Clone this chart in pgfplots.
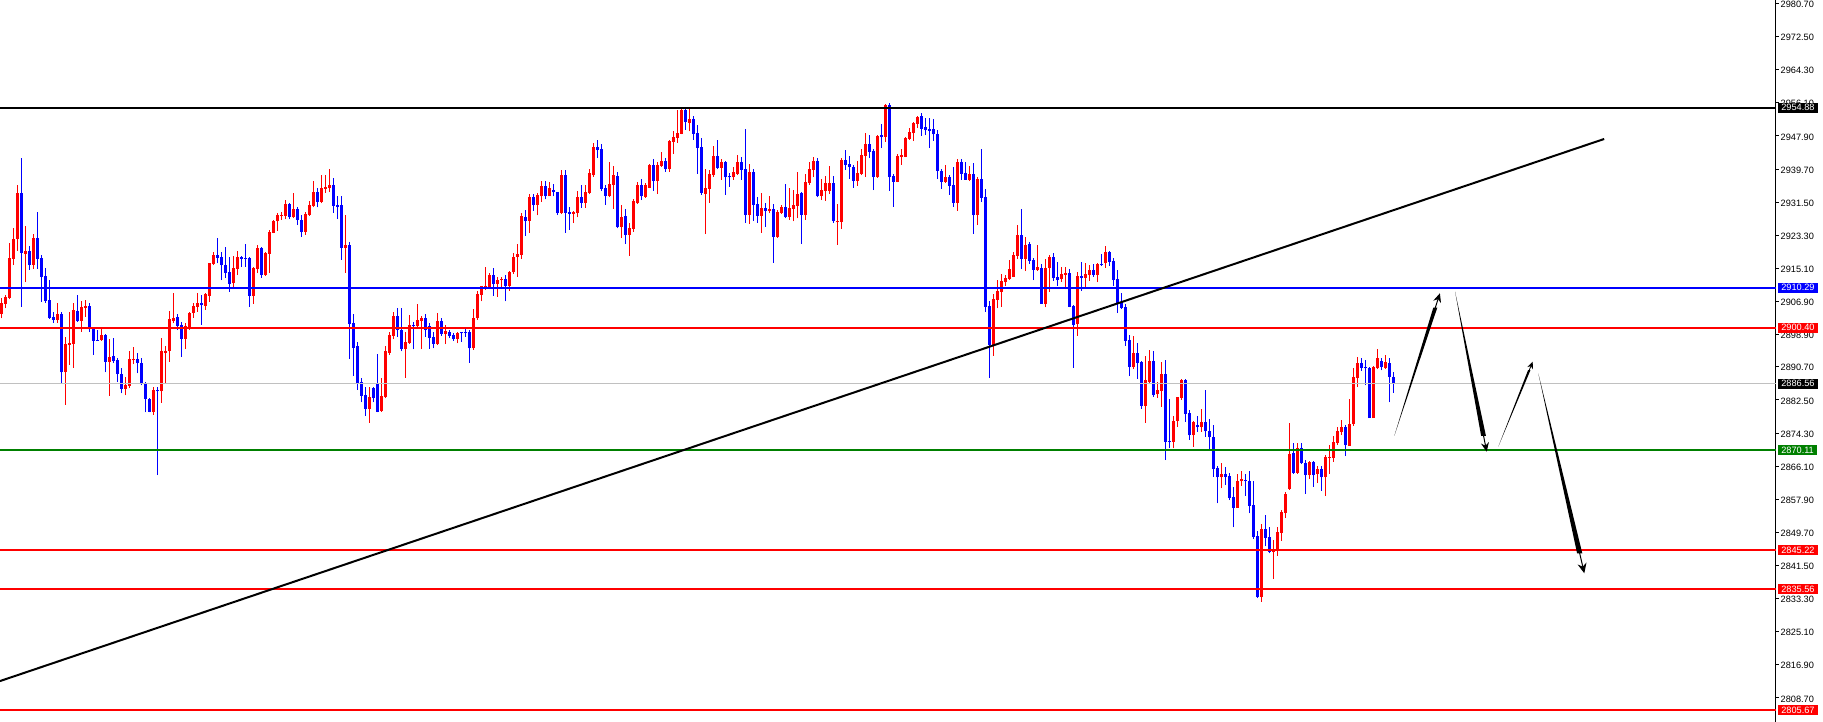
\documentclass[border=0pt]{standalone}
\usepackage{pgfplots}
\usepackage{pgfplotstable}
\pgfplotsset{compat=1.18}
\usetikzlibrary{arrows.meta}
\usepackage{fontspec}
\setmainfont{Liberation Sans}
\newcommand\tf{\fontsize{9.2}{10}\selectfont}
\definecolor{mtgreen}{RGB}{0,128,0}
\definecolor{mtsilver}{RGB}{192,192,192}

% bullish (red) candles: x = bar index, L = low, H = high, B = body bottom, T = body top
\pgfplotstableread{
x L H B T
0 2902.7 2907.7 2903.9 2906.4
1 2905.2 2908.5 2906.3 2908.1
2 2907.4 2921.3 2907.8 2917.7
3 2915.9 2925.0 2917.5 2922.4
4 2919.5 2935.7 2922.4 2933.8
6 2911.6 2925.6 2918.7 2919.3
8 2915.0 2923.6 2916.0 2922.6
14 2901.6 2906.5 2902.3 2903.8
16 2881.3 2898.0 2889.3 2896.4
17 2891.2 2904.4 2896.1 2896.5
18 2890.5 2906.5 2896.4 2904.8
20 2899.4 2907.1 2902.1 2905.6
21 2903.1 2907.3 2905.3 2905.8
25 2897.1 2900.2 2897.4 2898.6
27 2883.5 2897.7 2892.0 2893.1
31 2883.6 2888.1 2885.3 2886.1
32 2885.4 2894.7 2886.0 2892.6
33 2891.3 2895.6 2892.3 2892.6
38 2878.8 2885.8 2879.6 2885.0
40 2881.8 2897.8 2884.6 2894.5
41 2886.6 2895.9 2894.2 2894.7
42 2892.0 2904.5 2894.5 2902.6
43 2901.5 2909.1 2902.1 2902.9
46 2895.2 2901.5 2897.6 2900.9
47 2899.8 2904.4 2900.1 2904.1
48 2902.9 2906.4 2904.0 2905.8
49 2904.4 2908.9 2905.6 2906.4
51 2904.8 2909.1 2905.8 2908.7
52 2906.8 2916.5 2908.3 2916.3
53 2915.9 2919.2 2916.2 2918.4
58 2910.1 2918.2 2911.4 2915.1
59 2913.5 2919.4 2915.0 2917.8
63 2906.3 2915.4 2908.3 2915.2
64 2913.9 2920.9 2914.9 2920.2
66 2913.2 2919.1 2913.5 2918.9
67 2914.0 2924.6 2918.7 2924.2
68 2923.8 2927.1 2923.9 2926.9
69 2924.4 2928.9 2926.7 2928.3
70 2927.1 2929.1 2928.0 2928.3
71 2927.3 2932.0 2928.1 2931.0
73 2927.5 2933.8 2927.7 2929.8
76 2923.4 2929.1 2924.2 2928.6
77 2928.1 2931.9 2928.4 2930.8
78 2930.2 2936.7 2930.6 2933.9
80 2931.2 2938.2 2931.6 2934.9
81 2933.8 2938.2 2934.8 2935.2
82 2934.0 2939.6 2935.1 2935.7
86 2914.0 2928.3 2920.2 2920.9
92 2876.9 2885.6 2880.3 2883.3
95 2879.6 2887.9 2879.8 2883.5
96 2882.9 2895.9 2883.3 2894.6
97 2893.6 2899.4 2894.2 2898.6
98 2897.5 2904.4 2898.4 2903.3
101 2888.0 2899.4 2895.1 2896.8
102 2896.4 2903.5 2896.7 2901.1
104 2900.2 2906.3 2900.7 2902.3
105 2895.1 2903.4 2902.1 2902.8
109 2896.1 2904.0 2896.4 2902.0
111 2896.3 2901.1 2898.9 2899.6
114 2896.5 2899.4 2897.7 2899.0
118 2894.9 2905.0 2895.3 2902.7
119 2902.3 2909.5 2902.7 2908.8
120 2906.9 2910.8 2908.5 2910.6
121 2909.7 2915.4 2910.3 2910.6
122 2909.9 2913.9 2910.3 2913.5
124 2908.1 2913.0 2911.2 2912.1
125 2909.9 2913.0 2912.1 2912.5
127 2909.6 2914.4 2910.7 2914.2
128 2913.7 2918.8 2914.1 2917.9
129 2913.0 2921.1 2917.9 2918.7
130 2917.4 2928.7 2918.4 2928.1
132 2923.9 2933.5 2926.8 2932.8
134 2928.2 2933.7 2930.8 2933.3
135 2931.6 2936.7 2932.9 2935.5
137 2932.9 2936.4 2932.9 2934.9
140 2928.5 2939.4 2928.8 2938.2
143 2926.3 2929.3 2928.6 2929.1
144 2927.7 2934.2 2928.8 2932.8
146 2930.1 2935.8 2931.3 2934.0
147 2933.4 2939.7 2933.8 2938.6
148 2937.8 2946.2 2938.1 2945.2
152 2932.7 2941.5 2933.1 2936.0
153 2929.8 2940.5 2935.8 2938.1
155 2922.7 2930.8 2925.3 2927.8
157 2918.2 2926.3 2923.4 2925.0
158 2924.2 2932.2 2924.9 2931.8
159 2931.0 2936.4 2931.2 2935.8
161 2932.6 2936.2 2932.8 2935.8
162 2934.9 2941.0 2935.1 2940.7
164 2933.5 2941.5 2936.7 2940.7
165 2940.3 2944.0 2940.5 2941.7
167 2939.0 2946.8 2939.7 2946.6
168 2943.4 2949.0 2946.5 2947.6
169 2946.2 2954.3 2947.5 2948.6
170 2948.3 2954.7 2948.4 2954.3
172 2949.0 2954.7 2951.2 2952.1
176 2923.6 2939.7 2933.6 2934.9
177 2931.4 2939.5 2934.8 2938.5
178 2937.8 2945.4 2938.2 2942.9
180 2937.0 2942.1 2940.0 2941.4
183 2937.0 2940.2 2937.6 2939.0
184 2938.2 2943.2 2938.5 2941.4
187 2926.1 2941.0 2928.3 2939.0
190 2923.9 2933.7 2928.1 2930.1
192 2928.7 2933.0 2929.3 2929.8
194 2922.7 2929.6 2922.9 2929.1
195 2928.6 2930.8 2928.8 2930.3
197 2927.1 2934.9 2927.8 2930.1
198 2926.7 2934.5 2929.8 2930.8
199 2927.5 2938.9 2930.5 2933.5
201 2927.1 2938.5 2928.3 2936.5
202 2935.8 2941.5 2936.2 2939.7
203 2937.6 2942.7 2939.5 2941.7
205 2932.0 2937.2 2933.0 2934.4
206 2931.8 2938.0 2934.2 2936.2
207 2933.5 2940.5 2934.3 2936.2
209 2920.9 2931.0 2926.5 2926.8
210 2924.9 2942.4 2926.6 2941.9
214 2935.6 2941.7 2936.7 2938.7
215 2938.2 2944.7 2938.5 2943.2
216 2937.7 2948.6 2942.9 2945.9
219 2937.5 2948.1 2937.7 2947.9
221 2946.4 2955.8 2947.6 2955.5
224 2936.4 2943.4 2936.5 2942.9
225 2940.7 2944.7 2942.7 2943.2
226 2942.6 2947.6 2942.7 2947.4
227 2946.9 2949.9 2947.1 2948.9
228 2946.6 2951.4 2948.5 2951.1
229 2949.8 2952.9 2950.9 2952.6
236 2936.3 2940.7 2936.6 2937.7
239 2929.4 2942.2 2931.4 2941.4
242 2936.7 2940.5 2937.1 2938.5
244 2925.8 2937.8 2928.3 2937.2
248 2893.4 2908.8 2896.1 2907.5
249 2905.2 2912.2 2907.3 2909.5
250 2905.6 2913.7 2909.3 2912.0
251 2910.6 2913.5 2911.7 2912.7
252 2912.2 2917.2 2912.5 2914.9
253 2912.9 2919.1 2913.0 2918.4
254 2917.4 2925.8 2918.2 2923.4
256 2914.4 2922.9 2917.4 2920.9
259 2914.4 2920.9 2914.7 2915.4
261 2905.4 2917.4 2906.3 2915.2
262 2909.3 2918.3 2915.2 2917.9
265 2911.8 2915.4 2912.5 2913.7
266 2909.9 2915.4 2913.5 2914.0
269 2898.4 2914.2 2901.3 2913.2
271 2910.3 2916.3 2912.8 2913.7
272 2912.0 2915.9 2913.5 2914.7
274 2911.7 2916.4 2913.5 2916.2
276 2915.3 2920.6 2916.4 2919.2
283 2890.2 2898.3 2890.7 2894.1
286 2876.8 2893.4 2881.0 2887.4
287 2886.4 2894.9 2887.0 2892.2
289 2883.1 2887.0 2883.9 2885.0
290 2880.8 2892.0 2884.8 2888.9
293 2870.5 2878.4 2872.1 2877.3
294 2875.9 2883.3 2877.3 2883.2
295 2882.5 2887.6 2883.1 2887.4
298 2870.9 2877.3 2873.7 2877.0
300 2874.6 2880.2 2875.7 2877.0
305 2860.6 2867.0 2863.3 2864.2
309 2855.8 2864.1 2855.8 2862.4
310 2861.2 2864.8 2862.3 2862.9
315 2832.5 2851.8 2833.8 2850.5
318 2838.1 2847.8 2844.9 2845.5
319 2843.9 2851.1 2845.1 2849.9
320 2847.6 2855.2 2849.6 2854.8
321 2853.2 2859.8 2854.6 2859.3
322 2860.2 2876.9 2860.4 2869.1
324 2864.2 2871.8 2864.5 2870.5
327 2863.0 2867.4 2863.9 2867.1
329 2861.9 2866.1 2864.1 2865.4
331 2858.7 2868.9 2863.3 2868.4
332 2864.2 2871.3 2868.1 2868.4
333 2867.2 2873.6 2868.2 2872.1
334 2871.3 2875.7 2871.8 2874.8
335 2873.8 2877.5 2874.6 2875.8
337 2871.2 2882.7 2871.2 2876.5
338 2876.1 2890.3 2876.5 2888.2
339 2885.8 2893.1 2887.9 2891.7
343 2878.0 2890.9 2878.0 2890.6
344 2890.1 2895.1 2890.3 2892.8
346 2890.1 2893.6 2890.4 2891.9
}\up

% bearish (blue) candles
\pgfplotstableread{
x L H B T
5 2905.6 2942.4 2919.0 2933.8
7 2914.7 2920.6 2916.0 2919.4
9 2915.0 2929.1 2917.5 2922.6
10 2906.8 2918.4 2913.0 2917.7
11 2906.6 2915.2 2907.1 2913.2
12 2902.6 2912.2 2902.8 2907.3
13 2901.6 2904.4 2902.3 2903.0
15 2886.8 2904.4 2889.3 2903.9
19 2901.9 2908.6 2902.1 2904.5
22 2899.3 2906.4 2900.0 2905.8
23 2893.7 2900.5 2897.2 2900.0
24 2897.1 2899.8 2897.1 2897.4
26 2889.3 2898.8 2892.0 2898.6
28 2891.6 2897.8 2892.2 2893.3
29 2886.9 2892.8 2888.9 2892.4
30 2884.1 2890.4 2885.3 2888.9
34 2889.1 2894.2 2891.6 2892.6
35 2886.1 2893.0 2886.4 2891.6
36 2879.4 2887.0 2882.7 2886.6
37 2879.4 2882.9 2879.6 2882.7
39 2863.9 2885.8 2884.6 2885.0
44 2899.8 2903.8 2900.8 2903.0
45 2893.2 2901.9 2897.6 2901.1
50 2901.1 2908.5 2905.9 2906.4
54 2916.3 2922.7 2917.7 2918.4
55 2912.2 2919.2 2915.8 2918.0
56 2912.8 2920.5 2914.0 2915.9
57 2909.3 2918.0 2911.2 2914.3
60 2915.4 2918.2 2917.5 2917.8
61 2915.5 2921.1 2917.4 2917.7
62 2905.6 2918.0 2908.3 2917.7
65 2912.8 2920.5 2913.5 2920.2
72 2927.3 2931.4 2927.7 2931.0
74 2925.8 2930.4 2927.1 2929.7
75 2922.9 2928.3 2924.2 2927.1
79 2930.2 2934.9 2931.6 2934.1
83 2928.9 2937.4 2930.6 2935.8
84 2927.3 2932.9 2930.4 2930.8
85 2917.2 2933.0 2920.2 2930.8
87 2892.6 2921.5 2901.4 2920.9
88 2888.4 2903.8 2895.4 2901.5
89 2885.0 2896.9 2886.8 2895.9
90 2881.9 2887.9 2883.5 2886.9
91 2878.6 2885.8 2880.3 2883.7
93 2881.9 2885.8 2883.1 2885.5
94 2879.4 2893.9 2879.6 2886.6
99 2898.2 2905.2 2899.8 2903.3
100 2894.5 2905.2 2895.1 2899.8
103 2895.0 2901.9 2900.7 2901.1
106 2898.2 2903.8 2899.8 2902.8
107 2895.2 2901.5 2897.8 2900.8
108 2895.3 2899.4 2896.4 2898.1
110 2898.3 2902.7 2898.9 2902.0
112 2897.8 2899.8 2898.4 2899.4
113 2897.1 2899.2 2897.7 2898.6
115 2896.9 2899.4 2899.0 2899.3
116 2898.2 2900.2 2899.1 2899.4
117 2891.7 2899.8 2895.3 2899.3
123 2908.3 2915.2 2911.2 2913.5
126 2906.9 2913.5 2910.7 2912.5
131 2923.2 2929.6 2926.8 2927.8
133 2929.4 2933.5 2930.8 2932.8
136 2932.2 2936.7 2933.0 2935.5
138 2932.9 2936.0 2933.9 2934.5
139 2928.3 2934.1 2928.8 2933.9
141 2923.9 2939.5 2928.9 2938.2
142 2924.6 2930.2 2928.6 2929.1
145 2930.1 2935.8 2931.3 2932.8
149 2942.4 2946.9 2944.4 2945.2
150 2934.2 2945.8 2934.8 2944.7
151 2930.8 2935.8 2933.1 2935.0
154 2925.0 2938.9 2925.3 2938.0
156 2921.1 2929.7 2923.4 2928.1
160 2932.0 2937.2 2932.9 2935.8
163 2934.3 2942.2 2936.7 2940.7
166 2939.0 2942.4 2939.7 2941.8
171 2949.4 2954.7 2951.3 2954.3
173 2946.9 2952.9 2948.4 2952.1
174 2938.5 2950.6 2945.0 2948.6
175 2933.3 2947.5 2933.7 2945.2
179 2939.7 2946.9 2940.0 2942.9
181 2933.3 2941.8 2937.6 2941.4
182 2935.3 2938.6 2937.6 2937.9
185 2937.0 2942.7 2939.5 2941.4
186 2926.4 2949.7 2928.3 2939.7
188 2926.8 2939.7 2930.8 2939.0
189 2926.4 2932.8 2928.1 2931.0
191 2925.4 2931.3 2929.3 2930.1
193 2916.5 2931.0 2922.9 2929.8
196 2927.5 2936.0 2927.8 2930.3
200 2921.1 2934.1 2928.3 2933.8
204 2932.7 2942.4 2933.0 2941.7
208 2926.4 2938.0 2926.8 2936.2
211 2939.5 2944.4 2940.7 2941.9
212 2937.2 2942.9 2940.2 2941.0
213 2935.0 2940.7 2936.7 2940.2
217 2942.4 2948.1 2944.0 2945.9
218 2934.5 2944.7 2937.7 2944.2
220 2944.9 2950.9 2947.6 2948.1
222 2934.3 2956.1 2937.7 2955.5
223 2930.3 2938.5 2936.5 2938.0
230 2947.9 2953.6 2949.7 2952.8
231 2948.1 2952.3 2949.3 2950.0
232 2945.0 2952.3 2949.2 2949.5
233 2946.7 2952.1 2948.3 2949.5
234 2937.2 2949.4 2939.3 2948.4
235 2934.8 2939.7 2936.6 2939.2
237 2933.3 2938.2 2935.6 2937.7
238 2930.4 2940.2 2931.4 2935.7
240 2937.1 2942.2 2938.5 2941.4
241 2937.1 2941.4 2937.1 2938.6
243 2923.7 2941.2 2928.3 2938.5
245 2931.5 2944.7 2932.6 2937.2
246 2904.4 2934.8 2905.6 2932.8
247 2888.0 2906.9 2896.1 2905.8
255 2914.9 2929.8 2917.4 2923.4
257 2916.2 2921.6 2917.0 2921.1
258 2912.2 2917.6 2914.7 2917.2
260 2906.3 2916.2 2906.3 2915.2
263 2912.0 2918.9 2912.7 2917.9
264 2910.7 2916.6 2912.2 2913.0
267 2905.4 2914.9 2905.6 2914.0
268 2890.5 2906.0 2901.1 2905.8
270 2909.5 2916.7 2912.8 2913.2
273 2913.0 2916.2 2913.5 2914.7
275 2915.7 2918.7 2915.9 2916.2
277 2915.7 2919.3 2916.7 2919.2
278 2910.7 2917.7 2912.2 2916.9
279 2904.0 2914.7 2906.5 2912.5
280 2905.0 2909.0 2905.3 2906.7
281 2895.9 2906.3 2897.1 2905.5
282 2888.4 2898.6 2890.7 2897.3
284 2887.7 2896.6 2891.7 2894.1
285 2880.3 2892.2 2881.0 2892.0
288 2883.3 2894.6 2883.7 2892.2
291 2867.6 2892.4 2872.2 2888.9
292 2870.5 2882.7 2872.1 2872.4
296 2877.1 2887.6 2879.0 2887.4
297 2872.6 2880.0 2873.7 2879.2
299 2874.6 2878.4 2875.7 2876.2
301 2873.4 2885.0 2874.7 2877.0
302 2870.4 2877.7 2873.2 2874.9
303 2863.5 2876.3 2865.5 2873.3
304 2856.9 2866.2 2863.3 2865.6
306 2861.4 2866.0 2863.5 2864.2
307 2857.7 2864.3 2858.3 2863.7
308 2850.9 2861.0 2855.8 2858.5
311 2858.8 2864.1 2862.3 2862.7
312 2854.4 2864.9 2856.3 2862.4
313 2848.1 2862.3 2848.5 2856.5
314 2833.4 2850.1 2833.8 2848.8
316 2846.2 2854.0 2848.4 2850.5
317 2844.5 2850.9 2844.9 2848.6
323 2864.2 2871.8 2864.5 2869.3
325 2866.6 2871.9 2866.8 2870.5
326 2859.2 2867.6 2863.9 2867.0
328 2861.0 2867.4 2863.9 2867.1
330 2860.0 2866.1 2863.3 2865.4
336 2868.6 2876.3 2871.3 2875.8
340 2889.7 2892.8 2890.4 2891.7
341 2886.1 2892.4 2890.3 2890.7
342 2878.0 2890.7 2878.0 2890.4
345 2889.8 2892.8 2890.6 2892.2
347 2881.9 2893.0 2888.2 2891.6
348 2884.3 2889.3 2886.6 2888.2
}\down

\pgfplotsset{
  wick/.style={draw=none, mark=none, forget plot,
    error bars/.cd, y dir=plus, y explicit, error mark=none,
    error bar style={draw=#1, line width=1pt}},
  body/.style={draw=none, mark=none, forget plot,
    error bars/.cd, y dir=plus, y explicit, error mark=none,
    error bar style={draw=#1, line width=3pt, line cap=butt}},
}
\tikzset{
  pricebox/.style={anchor=west, fill=#1, text=white, font=\tf,
    inner xsep=3.6pt, inner ysep=0pt, minimum height=10pt, xshift=1.5pt},
}

\begin{document}
\begin{tikzpicture}
\useasboundingbox (0,0) rectangle (1823pt,722pt);
\begin{axis}[
  at={(0,0)}, anchor=south west,
  scale only axis, width=1776pt, height=722pt,
  xmin=-0.375, xmax=443.625, ymin=2802.72, ymax=2981.57,
  axis x line=none,
  axis y line*=right,
  y axis line style={-, black, line width=1pt},
  tick align=outside,
  major tick length=3pt,
  tick style={black, line width=1pt},
  ytick={2808.7,2816.9,2825.1,2833.3,2841.5,2849.7,2857.9,2866.1,2874.3,2882.5,2890.7,2898.8,2906.9,2915.1,2923.3,2931.5,2939.7,2947.9,2956.1,2964.3,2972.5,2980.7},
  yticklabels={2808.70,2816.90,2825.10,2833.30,2841.50,2849.70,2857.90,2866.10,2874.30,2882.50,2890.70,2898.90,2906.90,2915.10,2923.30,2931.50,2939.70,2947.90,2956.10,2964.30,2972.50,2980.70},
  yticklabel style={font=\tf, anchor=west, inner sep=0pt, xshift=1.5pt, yshift=-1pt},
  /pgf/number format/assume math mode=true,
  clip=false,
  after end axis/.code={
    \node[pricebox=black]     at (axis cs:443.625,2954.88) {2954.88};
    \node[pricebox=blue]      at (axis cs:443.625,2910.29) {2910.29};
    \node[pricebox=red]       at (axis cs:443.625,2900.40) {2900.40};
    \node[pricebox=black]     at (axis cs:443.625,2886.56) {2886.56};
    \node[pricebox=mtgreen]   at (axis cs:443.625,2870.11) {2870.11};
    \node[pricebox=red]       at (axis cs:443.625,2845.22) {2845.22};
    \node[pricebox=red]       at (axis cs:443.625,2835.56) {2835.56};
    \node[pricebox=red]       at (axis cs:443.625,2805.67) {2805.67};
  },
]
% wicks
\addplot[wick=red] table[x=x, y=L, y error expr=\thisrow{H}-\thisrow{L}] {\up};
\addplot[wick=blue] table[x=x, y=L, y error expr=\thisrow{H}-\thisrow{L}] {\down};
% bodies
\addplot[body=red] table[x=x, y=B, y error expr=\thisrow{T}-\thisrow{B}] {\up};
\addplot[body=blue] table[x=x, y=B, y error expr=\thisrow{T}-\thisrow{B}] {\down};

% horizontal price levels
\addplot[mtsilver, line width=1pt] coordinates {(-0.375,2886.56) (443.625,2886.56)};
\addplot[black, line width=2pt] coordinates {(-0.375,2954.88) (443.625,2954.88)};
\addplot[blue, line width=2pt] coordinates {(-0.375,2910.29) (443.625,2910.29)};
\addplot[red, line width=2pt] coordinates {(-0.375,2900.40) (443.625,2900.40)};
\addplot[mtgreen, line width=2pt] coordinates {(-0.375,2870.11) (443.625,2870.11)};
\addplot[red, line width=2pt] coordinates {(-0.375,2845.22) (443.625,2845.22)};
\addplot[red, line width=2pt] coordinates {(-0.375,2835.56) (443.625,2835.56)};
\addplot[red, line width=2pt] coordinates {(-0.375,2805.67) (443.625,2805.67)};

% trend line
\addplot[black, line width=2pt] coordinates {(-0.375,2812.86) (400.67,2947.14)};

% projected path arrows (tapered shafts with small heads)
\fill[black] (axis cs:348.2,2873.58) -- ([xshift=2pt]axis cs:358.46,2905.39) -- ([xshift=-2pt]axis cs:358.46,2905.39) -- cycle;
\draw[black, line width=1pt, -{Stealth[length=9pt,width=8pt]}] (axis cs:357.32,2901.85) -- (axis cs:359.6,2908.92);
\fill[black] (axis cs:363.4,2909.32) -- ([xshift=2.4pt]axis cs:370.51,2873.6) -- ([xshift=-2.4pt]axis cs:370.51,2873.6) -- cycle;
\draw[black, line width=1pt, -{Stealth[length=9pt,width=8pt]}] (axis cs:369.72,2877.6) -- (axis cs:371.3,2869.68);
\fill[black] (axis cs:374.2,2870.92) -- ([xshift=1.2pt]axis cs:381.94,2889.87) -- ([xshift=-1.2pt]axis cs:381.94,2889.87) -- cycle;
\draw[black, line width=0.8pt, -{Stealth[length=7pt,width=6pt]}] (axis cs:381.08,2887.77) -- (axis cs:382.8,2891.98);
\fill[black] (axis cs:384.2,2889.1) -- ([xshift=2.6pt]axis cs:394.55,2844.51) -- ([xshift=-2.6pt]axis cs:394.55,2844.51) -- cycle;
\draw[black, line width=1pt, -{Stealth[length=10pt,width=9pt]}] (axis cs:393.4,2849.47) -- (axis cs:395.7,2839.56);
\end{axis}
\end{tikzpicture}
\end{document}
